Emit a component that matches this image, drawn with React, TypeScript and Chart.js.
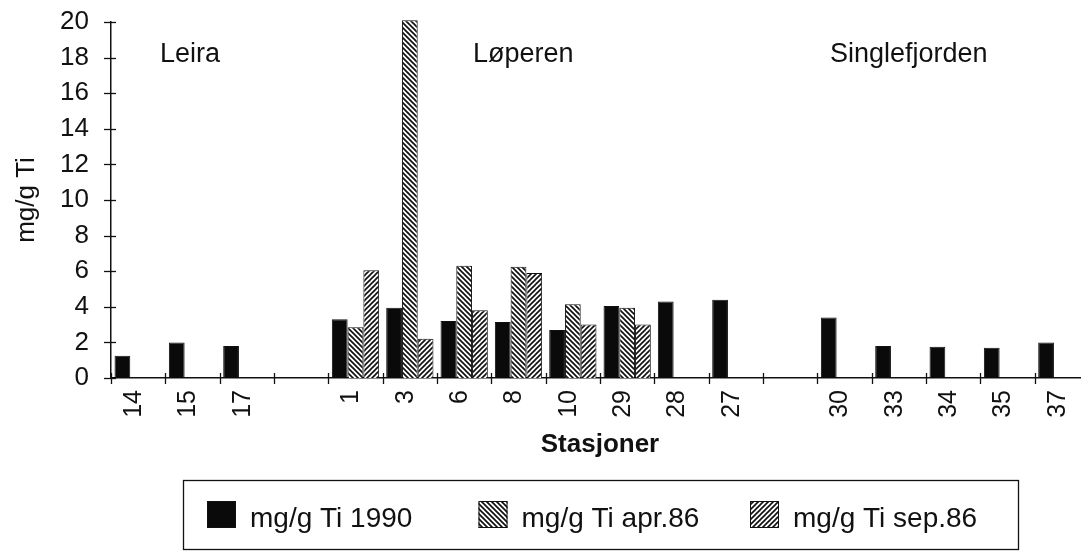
import { useEffect, useRef } from 'react';
import { Chart, registerables } from 'chart.js';

Chart.register(...registerables);

// ---- data ----
const categories = ['14', '15', '17', '', '1', '3', '6', '8', '10', '29', '28', '27', '', '30', '33', '34', '35', '37'];
const ti1990 = [1.25, 2.0, 1.8, null, 3.3, 3.95, 3.2, 3.15, 2.7, 4.05, 4.3, 4.4, null, 3.4, 1.8, 1.75, 1.7, 2.0];
const tiApr86 = [null, null, null, null, 2.85, 20.1, 6.3, 6.25, 4.15, 3.95, null, null, null, null, null, null, null, null];
const tiSep86 = [null, null, null, null, 6.05, 2.2, 3.8, 5.9, 3.0, 3.0, null, null, null, null, null, null, null, null];
const seriesLabels = ['mg/g Ti 1990', 'mg/g Ti apr.86', 'mg/g Ti sep.86'];
const groupLabels = ['Leira', 'Løperen', 'Singlefjorden'];
const yAxisTitle = 'mg/g Ti';
const xAxisTitle = 'Stasjoner';

const INK = '#111111';
const SANS = '"Liberation Sans", Arial, Helvetica, sans-serif';

function makeHatch(dir: 'back' | 'fwd', period: number, lw: number): CanvasPattern | string {
  const c = document.createElement('canvas');
  c.width = period;
  c.height = period;
  const g = c.getContext('2d');
  if (!g) return '#888';
  g.fillStyle = '#ffffff';
  g.fillRect(0, 0, period, period);
  g.strokeStyle = INK;
  g.lineWidth = lw;
  g.lineCap = 'square';
  for (const x0 of [-period, 0, period]) {
    g.beginPath();
    if (dir === 'back') {
      g.moveTo(x0, 0);
      g.lineTo(x0 + period, period);
    } else {
      g.moveTo(x0, period);
      g.lineTo(x0 + period, 0);
    }
    g.stroke();
  }
  const p = g.createPattern(c, 'repeat');
  return p || '#888';
}

const groupLabelX = [160, 473, 830];

const decorPlugin = {
  id: 'decor',
  afterDraw(chart: any) {
    const { ctx, chartArea: ca, scales } = chart;
    const y = scales.y;
    ctx.save();
    ctx.strokeStyle = INK;
    ctx.lineWidth = 1.3;
    const line = (x1: number, y1: number, x2: number, y2: number) => {
      ctx.beginPath();
      ctx.moveTo(x1, y1);
      ctx.lineTo(x2, y2);
      ctx.stroke();
    };
    // y tick crosses
    y.ticks.forEach((t: any) => {
      const py = Math.round(y.getPixelForValue(t.value)) + 0.5;
      line(ca.left - 7, py, ca.left + 5, py);
    });
    // x tick crosses at category boundaries
    const n = categories.length;
    const w = (ca.right - ca.left) / n;
    for (let i = 0; i <= n; i++) {
      const px = Math.round(ca.left + i * w) + 0.5;
      line(px, ca.bottom - 5, px, ca.bottom + 6);
    }
    // group labels
    ctx.fillStyle = INK;
    ctx.font = `27px ${SANS}`;
    ctx.textAlign = 'left';
    ctx.textBaseline = 'alphabetic';
    groupLabels.forEach((g, i) => ctx.fillText(g, groupLabelX[i], 62));

    // legend
    ctx.lineWidth = 1.3;
    ctx.strokeRect(183.5, 480.5, 835, 69);
    chart.data.datasets.forEach((ds: any, i: number) => {
      const sx = 207 + i * 271.5;
      ctx.fillStyle = ds.backgroundColor;
      ctx.fillRect(sx, 501, 29, 27);
      ctx.lineWidth = 1;
      ctx.strokeRect(sx + 0.5, 501.5, 28, 26);
      ctx.fillStyle = INK;
      ctx.font = `28px ${SANS}`;
      ctx.fillText(ds.label, sx + 43, 527);
    });
    ctx.restore();
  },
};

export default function App() {
  const ref = useRef<HTMLCanvasElement | null>(null);

  useEffect(() => {
    if (!ref.current) return;
    const aprFill = makeHatch('back', 5, 1.7);
    const sepFill = makeHatch('fwd', 5, 1.7);
    const common = {
      borderColor: INK,
      borderWidth: 1,
      borderSkipped: 'bottom' as const,
      barPercentage: 1.0,
      categoryPercentage: 0.87,
      clip: false as const,
    };
    const chart = new Chart(ref.current, {
      type: 'bar',
      data: {
        labels: categories,
        datasets: [
          { ...common, label: seriesLabels[0], data: ti1990, backgroundColor: '#0a0a0a' },
          { ...common, label: seriesLabels[1], data: tiApr86, backgroundColor: aprFill as any },
          { ...common, label: seriesLabels[2], data: tiSep86, backgroundColor: sepFill as any },
        ],
      },
      options: {
        animation: false,
        responsive: true,
        maintainAspectRatio: false,
        layout: { padding: { top: 22, right: 0, bottom: 84, left: 0 } },
        plugins: {
          legend: { display: false },
          tooltip: { enabled: false },
        },
        scales: {
          x: {
            offset: true,
            grid: { display: false, drawTicks: false },
            border: { display: true, color: INK, width: 1.5 },
            ticks: {
              autoSkip: false,
              minRotation: 90,
              maxRotation: 90,
              padding: 12,
              labelOffset: -4,
              color: INK,
              font: { family: SANS, size: 25 },
            },
            title: {
              display: true,
              text: xAxisTitle,
              color: INK,
              font: { family: SANS, size: 26, weight: 'bold' },
              padding: { top: 0, bottom: 8 },
            },
            afterFit: (s: any) => {
              s.height = 90;
              s.paddingLeft = 0;
              s.paddingRight = 0;
            },
          },
          y: {
            min: 0,
            max: 20,
            ticks: {
              stepSize: 2,
              padding: 22,
              color: INK,
              font: { family: SANS, size: 26 },
            },
            grid: { display: false, drawTicks: false },
            border: { display: true, color: INK, width: 1.5 },
            title: {
              display: true,
              text: yAxisTitle,
              color: INK,
              font: { family: SANS, size: 26 },
              padding: { top: 11, bottom: 0 },
            },
            afterFit: (s: any) => {
              s.width = 111;
              s.paddingTop = 0;
              s.paddingBottom = 0;
            },
          },
        },
      },
      plugins: [decorPlugin],
    });
    return () => chart.destroy();
  }, []);

  return (
    <div style={{ position: 'fixed', left: 0, top: 0, width: 1081, height: 552, overflow: 'hidden', background: '#fff' }}>
      <div style={{ position: 'absolute', left: 0, top: 0, width: 1089, height: 552 }}>
        <canvas ref={ref} />
      </div>
    </div>
  );
}
